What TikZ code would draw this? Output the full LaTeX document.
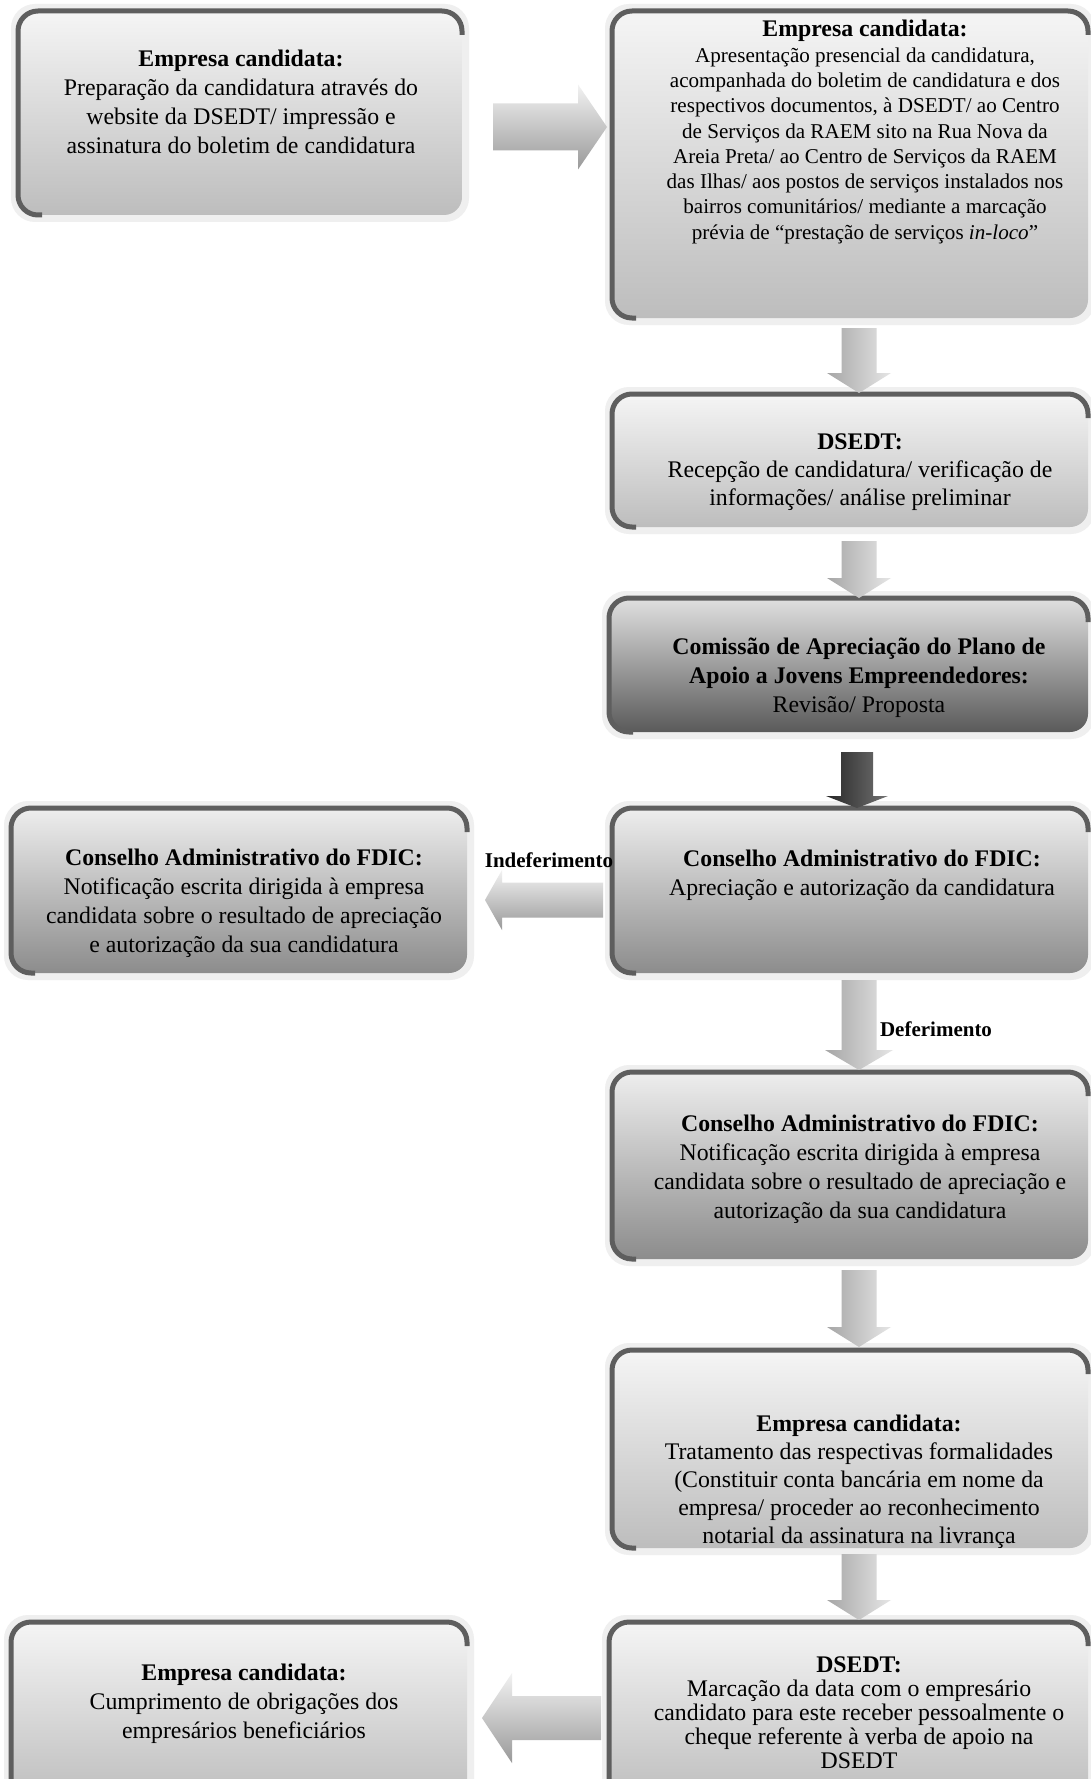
\documentclass[tikz,border=0pt]{standalone}
\usepackage{fontspec}
\setmainfont{Liberation Serif}
\usetikzlibrary{calc,backgrounds}
\definecolor{bev}{HTML}{5E5E5E}
\definecolor{halo}{HTML}{EFEFEF}
\definecolor{ltT}{HTML}{F5F5F5}
\definecolor{ltM}{HTML}{E2E2E2}
\definecolor{ltB}{HTML}{BDBDBD}
\definecolor{mdT}{HTML}{EEEEEE}
\definecolor{mdM}{HTML}{CFCFCF}
\definecolor{mdB}{HTML}{8C8C8C}
\definecolor{dkT}{HTML}{E0E0E0}
\definecolor{dkM}{HTML}{A8A8A8}
\definecolor{dkB}{HTML}{5A5A5A}
\tikzset{
  x=1pt, y=1pt,
  boxbase/.style={rectangle, rounded corners=18pt, inner sep=0pt, outer sep=0pt, anchor=north west},
  boxlt/.style={boxbase, top color=ltT, middle color=ltM, bottom color=ltB},
  boxmd/.style={boxbase, top color=mdT, middle color=mdM, bottom color=mdB},
  boxdk/.style={boxbase, top color=dkT, middle color=dkM, bottom color=dkB},
  bevel/.style={draw=bev, line width=5pt, rounded corners=20pt},
  halofill/.style={fill=halo, rounded corners=24pt},
  txt/.style={align=center, inner sep=0pt, font=\fontsize{23.8}{29}\selectfont},
  lbl/.style={inner sep=0pt, font=\fontsize{21}{24}\selectfont\bfseries},
  arlt/.style={top color=gray!10, bottom color=gray!80},
  arlr/.style={left color=gray!70, right color=gray!20},
  ardk/.style={left color=black!85, right color=black!55},
}
\newcommand\blkdown[6]{%
  \path[#6] let \p1=(#1), \p2=(#2) in
    (\x1-#3,\y1) -- (\x1+#3,\y1) -- (\x1+#3,\y2+#5) -- (\x1+#4,\y2+#5) --
    (\x1,\y2) -- (\x1-#4,\y2+#5) -- (\x1-#3,\y2+#5) -- cycle;}
\newcommand\blkleft[6]{%
  \path[#6] let \p1=(#1), \p2=(#2) in
    (\x1,\y1+#3) -- (\x2+#5,\y1+#3) -- (\x2+#5,\y1+#4) -- (\x2,\y1) --
    (\x2+#5,\y1-#4) -- (\x2+#5,\y1-#3) -- (\x1,\y1-#3) -- cycle;}
\newcommand\blkright[6]{%
  \path[#6] let \p1=(#1), \p2=(#2) in
    (\x1,\y1+#3) -- (\x2-#5,\y1+#3) -- (\x2-#5,\y1+#4) -- (\x2,\y1) --
    (\x2-#5,\y1-#4) -- (\x2-#5,\y1-#3) -- (\x1,\y1-#3) -- cycle;}
\newcommand\halobox[1]{%
  \fill[halofill] ([shift={(-7,7)}]#1.north west) rectangle ([shift={(7,-7)}]#1.south east);}
\newcommand\bevline[1]{%
  \draw[bevel] ([xshift=24pt]#1.south west) -- (#1.south west) -- (#1.north west) -- (#1.north east) -- ([yshift=-24pt]#1.north east);}
\begin{document}
\begin{tikzpicture}
\useasboundingbox (0,0) rectangle (1090,-1779);
% boxes
\node[boxlt, minimum width=444, minimum height=204] (b1) at (18,-11) {};
\node[boxlt, minimum width=476, minimum height=307] (b2) at (612,-11) {};
\node[boxlt, minimum width=476, minimum height=133] (b3) at (612,-394) {};
\node[boxdk, minimum width=479, minimum height=134] (b4) at (609,-598) {};
\node[boxmd, minimum width=476, minimum height=165] (b5) at (612,-808) {};
\node[boxmd, minimum width=456, minimum height=165] (b6) at (11,-808) {};
\node[boxmd, minimum width=476, minimum height=187] (b7) at (612,-1072) {};
\node[boxlt, minimum width=476, minimum height=198] (b8) at (612,-1350) {};
\node[boxlt, minimum width=479, minimum height=180] (b9) at (609,-1622) {};
\node[boxlt, minimum width=456, minimum height=180] (b10) at (11,-1622) {};
\begin{scope}[on background layer]
  \fill[white] (0,0) rectangle (1090,-1779);
  \foreach \b in {b1,b2,b3,b4,b5,b6,b7,b8,b9,b10} {\halobox{\b}}
\end{scope}
\foreach \b in {b1,b2,b3,b4,b5,b6,b7,b8,b9,b10} {\bevline{\b}}
% texts
\node[txt] (t1) at (241,-102) {\textbf{Empresa candidata:}\\Preparação da candidatura através do\\website da DSEDT/ impressão e\\assinatura do boletim de candidatura};
\node[txt, font=\fontsize{21.1}{25.3}\selectfont] (t2) at (865,-132) {{\fontsize{23.8}{26}\selectfont\textbf{Empresa candidata:}}\\Apresentação presencial da candidatura,\\acompanhada do boletim de candidatura e dos\\respectivos documentos, à DSEDT/ ao Centro\\de Serviços da RAEM sito na Rua Nova da\\Areia Preta/ ao Centro de Serviços da RAEM\\das Ilhas/ aos postos de serviços instalados nos\\bairros comunitários/ mediante a marcação\\prévia de “prestação de serviços \textit{in-loco}”};
\node[txt, font=\fontsize{23.8}{28}\selectfont] (t3) at (860,-472) {\textbf{DSEDT:}\\Recepção de candidatura/ verificação de\\informações/ análise preliminar};
\node[txt] (t4) at (859,-678) {\textbf{Comissão de Apreciação do Plano de}\\\textbf{Apoio a Jovens Empreendedores:}\\Revisão/ Proposta};
\node[txt] (t5) at (862,-875) {\textbf{Conselho Administrativo do FDIC:}\\Apreciação e autorização da candidatura};
\node[txt] (t6) at (244,-903) {\textbf{Conselho Administrativo do FDIC:}\\Notificação escrita dirigida à empresa\\candidata sobre o resultado de apreciação\\e autorização da sua candidatura};
\node[txt] (t7) at (860,-1169) {\textbf{Conselho Administrativo do FDIC:}\\Notificação escrita dirigida à empresa\\candidata sobre o resultado de apreciação e\\autorização da sua candidatura};
\node[txt, font=\fontsize{23.8}{28}\selectfont] (t8) at (859,-1482) {\textbf{Empresa candidata:}\\Tratamento das respectivas formalidades\\(Constituir conta bancária em nome da\\empresa/ proceder ao reconhecimento\\notarial da assinatura na livrança};
\node[txt, font=\fontsize{23.8}{24}\selectfont] (t9) at (859,-1713) {\textbf{DSEDT:}\\Marcação da data com o empresário\\candidato para este receber pessoalmente o\\cheque referente à verba de apoio na\\DSEDT};
\node[txt] (t10) at (244,-1704) {\textbf{Empresa candidata:}\\Cumprimento de obrigações dos\\empresários beneficiários};
% arrow end points
\coordinate (a0s) at (493,-127); \coordinate (a0e) at (607,-127);
\coordinate (a1s) at (859,-328); \coordinate (a1e) at (859,-393);
\coordinate (a2s) at (859,-541); \coordinate (a2e) at (859,-598);
\coordinate (a3s) at (857,-752); \coordinate (a3e) at (857,-808);
\coordinate (a4s) at (859,-980); \coordinate (a4e) at (859,-1070);
\coordinate (a5s) at (859,-1270); \coordinate (a5e) at (859,-1347);
\coordinate (a6s) at (859,-1554); \coordinate (a6e) at (859,-1620);
\coordinate (a7s) at (603,-900); \coordinate (a7e) at (485,-900);
\coordinate (a8s) at (601,-1718); \coordinate (a8e) at (482,-1718);
\blkright{a0s}{a0e}{23.5}{42.5}{29}{arlt}
\blkdown{a1s}{a1e}{17.5}{32}{20}{arlr}
\blkdown{a2s}{a2e}{17.5}{32}{20}{arlr}
\blkdown{a3s}{a3e}{16}{31}{12}{ardk}
\blkdown{a4s}{a4e}{17.5}{34}{20}{arlr}
\blkdown{a5s}{a5e}{17.5}{32}{20}{arlr}
\blkdown{a6s}{a6e}{17.5}{32}{20}{arlr}
\blkleft{a7s}{a7e}{17.5}{30}{17}{arlt}
\blkleft{a8s}{a8e}{22}{45}{30}{arlt}
% labels
\node[lbl] (l1) at (549,-860) {Indeferimento};
\node[lbl] (l2) at (936,-1029) {Deferimento};
\end{tikzpicture}
\end{document}
